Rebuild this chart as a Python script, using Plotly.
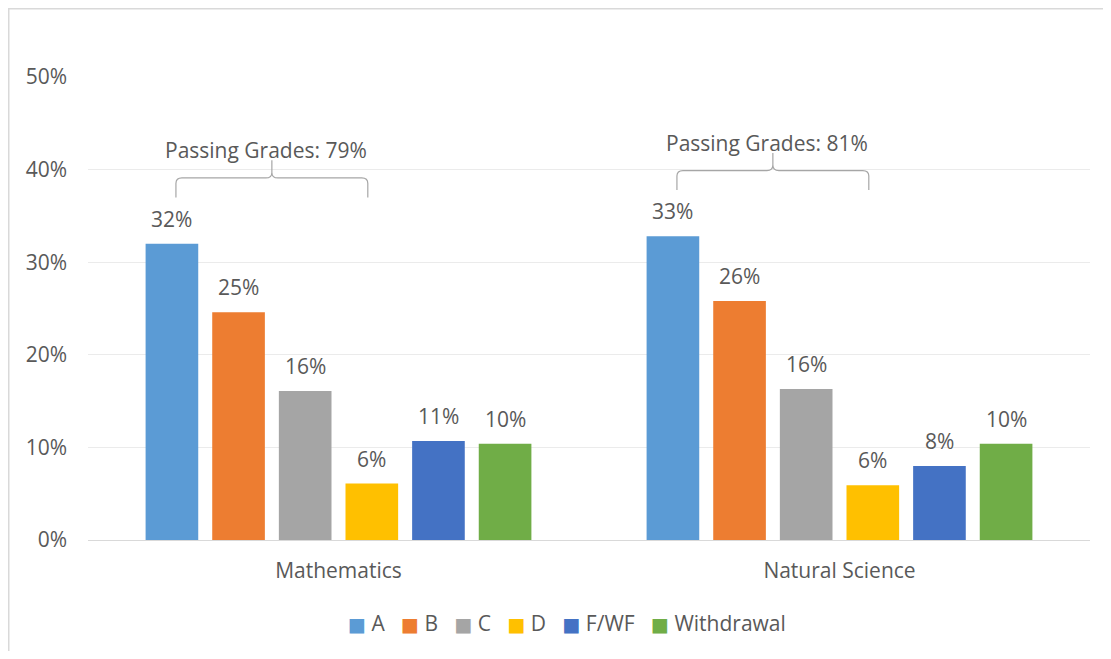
import plotly.graph_objects as go

subjects = ["Mathematics", "Natural Science"]
grades = ["A", "B", "C", "D", "F/WF", "Withdrawal"]
math_vals = [0.320, 0.246, 0.161, 0.061, 0.107, 0.104]
sci_vals = [0.328, 0.258, 0.163, 0.059, 0.080, 0.104]
colors = ["#5B9BD5", "#ED7D31", "#A5A5A5", "#FFC000", "#4472C4", "#70AD47"]
passing_grades = ["A", "B", "C", "D"]

FONT = "Open Sans"
FS = 21
TXT = "#595959"
BARGAP = 0.202
GROUPGAP = 0.21
values = {subjects[0]: math_vals, subjects[1]: sci_vals}

fig = go.Figure()
for gi, g in enumerate(grades):
    fig.add_trace(go.Bar(
        name=g, x=subjects, y=[values[s][gi] for s in subjects],
        marker=dict(color=colors[gi], line=dict(width=0)),
        showlegend=False,
    ))

slot = (1 - BARGAP) / len(grades)
def bar_center(ci, gi):
    return ci - (1 - BARGAP) / 2 + slot * (gi + 0.5)

annotations = []
shapes = []
for ci, s in enumerate(subjects):
    vals = values[s]
    for gi, v in enumerate(vals):
        annotations.append(dict(
            x=bar_center(ci, gi), y=v, xref="x", yref="y",
            text=f"{round(v*100):.0f}%", showarrow=False,
            yanchor="bottom", yshift=9,
            font=dict(family=FONT, size=FS, color=TXT),
        ))
    idx = [grades.index(g) for g in passing_grades]
    total = sum(round(vals[i] * 100) for i in idx)
    x0 = bar_center(ci, idx[0]) + 0.008
    x1 = bar_center(ci, idx[-1]) - 0.008
    base = max(vals[i] for i in idx) + 0.05
    arm = base + 0.021
    peak = arm + 0.019
    xm = (x0 + x1) / 2
    r = 0.012
    path = (f"M {x0},{base} L {x0},{arm - 0.006} Q {x0},{arm} {x0 + r},{arm} "
            f"L {xm - r},{arm} Q {xm},{arm} {xm},{arm + 0.006} L {xm},{peak} "
            f"M {xm},{arm + 0.006} Q {xm},{arm} {xm + r},{arm} "
            f"L {x1 - r},{arm} Q {x1},{arm} {x1},{arm - 0.006} L {x1},{base}")
    shapes.append(dict(type="path", path=path, xref="x", yref="y",
                       line=dict(color="#A6A6A6", width=1.2)))
    annotations.append(dict(
        x=xm - 0.012, y=peak, xref="x", yref="y",
        text=f"Passing Grades: {total}%", showarrow=False,
        yanchor="bottom", yshift=-6,
        font=dict(family=FONT, size=FS, color=TXT),
    ))

# compact Excel-style legend
legend_parts = [
    f"<span style='color:{c};font-family:DejaVu Sans;font-size:19px'>■</span>&nbsp;{g}"
    for g, c in zip(grades, colors)
]
annotations.append(dict(
    x=0.4785, y=-0.179, xref="paper", yref="paper", xanchor="center", yanchor="middle",
    text="&nbsp;&nbsp;&nbsp;".join(legend_parts), showarrow=False,
    font=dict(family=FONT, size=FS, color=TXT),
))

# chart border (outer frame of the chart area)
shapes.append(dict(type="rect", xref="paper", yref="paper",
                   x0=-0.0791, x1=1.05, y0=-0.4, y1=1.1474,
                   line=dict(color="#D9D9D9", width=1.5), layer="below"))

fig.update_layout(
    width=1095, height=643,
    margin=dict(l=80, r=13, t=69, b=111, autoexpand=False),
    paper_bgcolor="white", plot_bgcolor="white",
    barmode="group", bargap=BARGAP, bargroupgap=GROUPGAP,
    font=dict(family=FONT, size=FS, color=TXT),
    xaxis=dict(showgrid=False, showline=True, linecolor="#D9D9D9", linewidth=1.2,
               ticks="", tickfont=dict(size=FS, color=TXT), ticklabelstandoff=12),
    yaxis=dict(range=[0, 0.5], dtick=0.1, tickformat=".0%", showgrid=True,
               gridcolor="#EBEBEB", gridwidth=1.2, zeroline=False, showline=False,
               ticks="", tickfont=dict(size=FS, color=TXT), ticklabelstandoff=20),
    showlegend=False,
    annotations=annotations, shapes=shapes,
)

fig.write_html("out.html")
